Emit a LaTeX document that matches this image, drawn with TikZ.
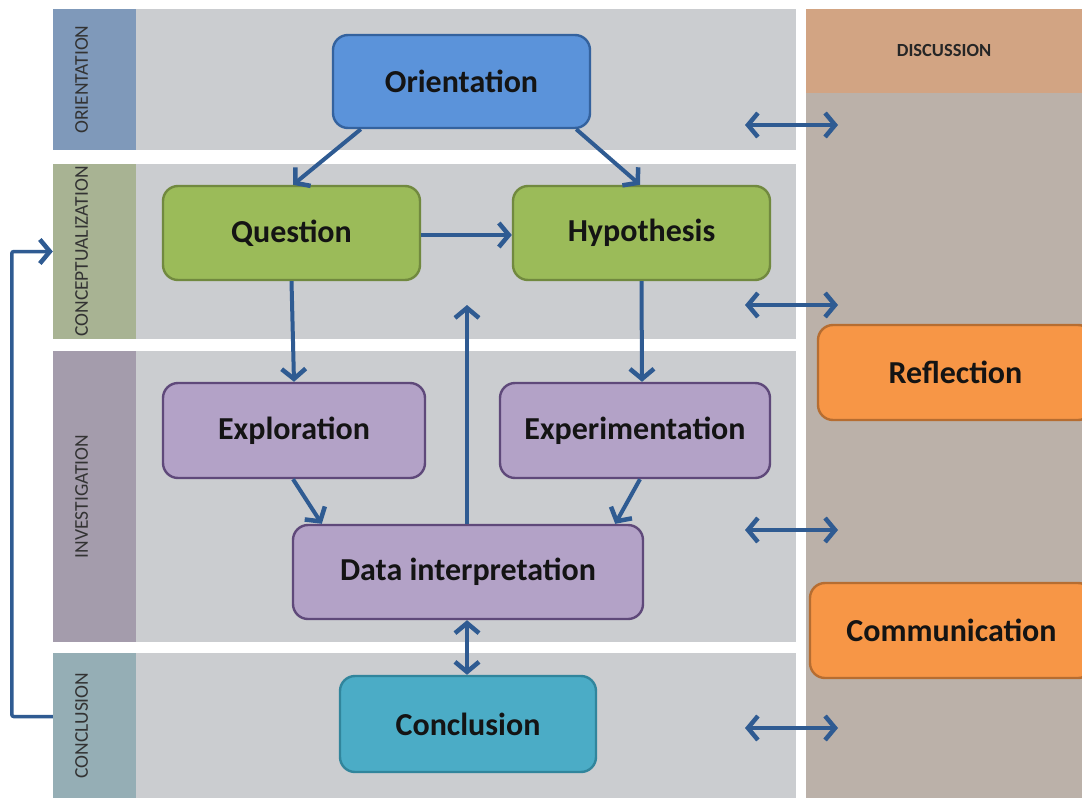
\documentclass[tikz,border=0pt]{standalone}
\usepackage{fontspec}
\setmainfont{Carlito}
\usetikzlibrary{arrows.meta}
\definecolor{band}{HTML}{CBCDD0}
\definecolor{sOri}{HTML}{7F99BA}
\definecolor{sCon}{HTML}{A8B393}
\definecolor{sInv}{HTML}{A49CAC}
\definecolor{sCcl}{HTML}{95AEB5}
\definecolor{discH}{HTML}{D2A483}
\definecolor{discB}{HTML}{BBB1A9}
\definecolor{arr}{HTML}{2F5B92}
\definecolor{blueF}{HTML}{5B93DA}\definecolor{blueD}{HTML}{34629E}
\definecolor{greenF}{HTML}{9BBB59}\definecolor{greenD}{HTML}{71893F}
\definecolor{purF}{HTML}{B3A2C7}\definecolor{purD}{HTML}{5F497A}
\definecolor{cyanF}{HTML}{4BACC6}\definecolor{cyanD}{HTML}{31859C}
\definecolor{oraF}{HTML}{F79646}\definecolor{oraD}{HTML}{B66D31}
\definecolor{txt}{HTML}{141414}
\tikzset{
  box/.style={draw, line width=2.4pt, rounded corners=15pt, font=\bfseries\fontsize{32}{36}\selectfont, text=txt, inner sep=0pt},
  strip/.style={inner sep=0pt, minimum width=83pt},
  striplabel/.style={rotate=90, font=\fontsize{19.5}{22}\selectfont, text=black!80},
  conn/.style={draw=arr, line width=4pt, -{Straight Barb[length=10pt,width=24pt,line width=4.5pt]}},
  dconn/.style={draw=arr, line width=4pt, {Straight Barb[length=10pt,width=24pt,line width=4.5pt]}-{Straight Barb[length=10pt,width=24pt,line width=4.5pt]}},
}
\begin{document}
\begin{tikzpicture}[x=1pt,y=-1pt]
\useasboundingbox (0,0) rectangle (1082,798);
\fill[white] (0,0) rectangle (1082,798);
% bands
\fill[band] (136,9) rectangle (796,150);
\fill[band] (136,164) rectangle (796,339);
\fill[band] (136,351) rectangle (796,642);
\fill[band] (136,653) rectangle (796,798);
% strips
\node[strip, fill=sOri, minimum height=141pt] (so) at (94.5,79.5) {};
\node[strip, fill=sCon, minimum height=175pt] (sc) at (94.5,251.5) {};
\node[strip, fill=sInv, minimum height=291pt] (si) at (94.5,496.5) {};
\node[strip, fill=sCcl, minimum height=145pt] (sl) at (94.5,725.5) {};
\node[striplabel] (lo) at ([xshift=-13pt]so.center) {ORIENTATION};
\node[striplabel] (lc) at ([xshift=-13pt]sc.center) {CONCEPTUALIZATION};
\node[striplabel] (li) at ([xshift=-13pt]si.center) {INVESTIGATION};
\node[striplabel] (ll) at ([xshift=-13pt]sl.center) {CONCLUSION};
% discussion column
\fill[discB] (806,93) rectangle (1082,798);
\node[fill=discH, minimum width=276pt, minimum height=84pt, inner sep=0pt, font=\bfseries\fontsize{18.5}{20}\selectfont, text=black!85] (dh) at (944,51) {DISCUSSION};
% nodes
\node[box, fill=blueF, draw=blueD, minimum width=257pt, minimum height=93pt] (ori) at (461.5,81.5) {Orientation};
\node[box, fill=greenF, draw=greenD, minimum width=257pt, minimum height=94pt] (que) at (291.5,233) {Question};
\node[box, fill=greenF, draw=greenD, minimum width=257pt, minimum height=94pt] (hyp) at (641.5,233) {Hypothesis};
\node[box, fill=purF, draw=purD, minimum width=262pt, minimum height=95pt] (exp) at (294,430.5) {Exploration};
\node[box, fill=purF, draw=purD, minimum width=270pt, minimum height=95pt] (ext) at (635,430.5) {Experimentation};
\node[box, fill=purF, draw=purD, minimum width=350pt, minimum height=94pt] (dat) at (468,572) {Data interpretation};
\node[box, fill=cyanF, draw=cyanD, minimum width=256pt, minimum height=96pt] (con) at (468,724) {Conclusion};
\node[box, fill=oraF, draw=oraD, minimum width=275pt, minimum height=95pt] (ref) at (955.5,372.5) {Reflection};
\node[box, fill=oraF, draw=oraD, minimum width=283pt, minimum height=95pt] (com) at (951.5,630.5) {Communication};
% connectors
\draw[conn] ([xshift=29pt]ori.south west) -- ([xshift=1.5pt]que.north);
\draw[conn] ([xshift=-15pt]ori.south east) -- ([xshift=-1.5pt]hyp.north);
\draw[conn] ([yshift=-2pt]que.east) -- ([yshift=-2pt]hyp.west);
\draw[conn] (que.south) -- (exp.south |- ext.north);
\draw[conn] (hyp.south) -- ([xshift=7pt]ext.north);
\draw[conn] ([xshift=-1pt]exp.south) -- ([xshift=30pt]dat.north west);
\draw[conn] ([xshift=5pt]ext.south) -- ([xshift=-29pt]dat.north east);
\coordinate (up) at (467,305);
\draw[conn] ([xshift=-1pt]dat.north) -- (up);
\draw[dconn] ([xshift=-1pt]dat.south) -- ([xshift=-1pt]con.north);
\draw[conn, line width=3.5pt, rounded corners=2pt] ([yshift=9pt]sl.west) -- ++(-41,0) |- (sc.west);
% discussion arrows
\coordinate (d1a) at (745,125); \coordinate (d1b) at (838,125);
\coordinate (d2a) at (745,305); \coordinate (d2b) at (838,305);
\coordinate (d3a) at (745,530); \coordinate (d3b) at (838,530);
\coordinate (d4a) at (745,728); \coordinate (d4b) at (838,728);
\draw[dconn] (d1a) -- (d1b);
\draw[dconn] (d2a) -- (d2b);
\draw[dconn] (d3a) -- (d3b);
\draw[dconn] (d4a) -- (d4b);
\end{tikzpicture}
\end{document}
